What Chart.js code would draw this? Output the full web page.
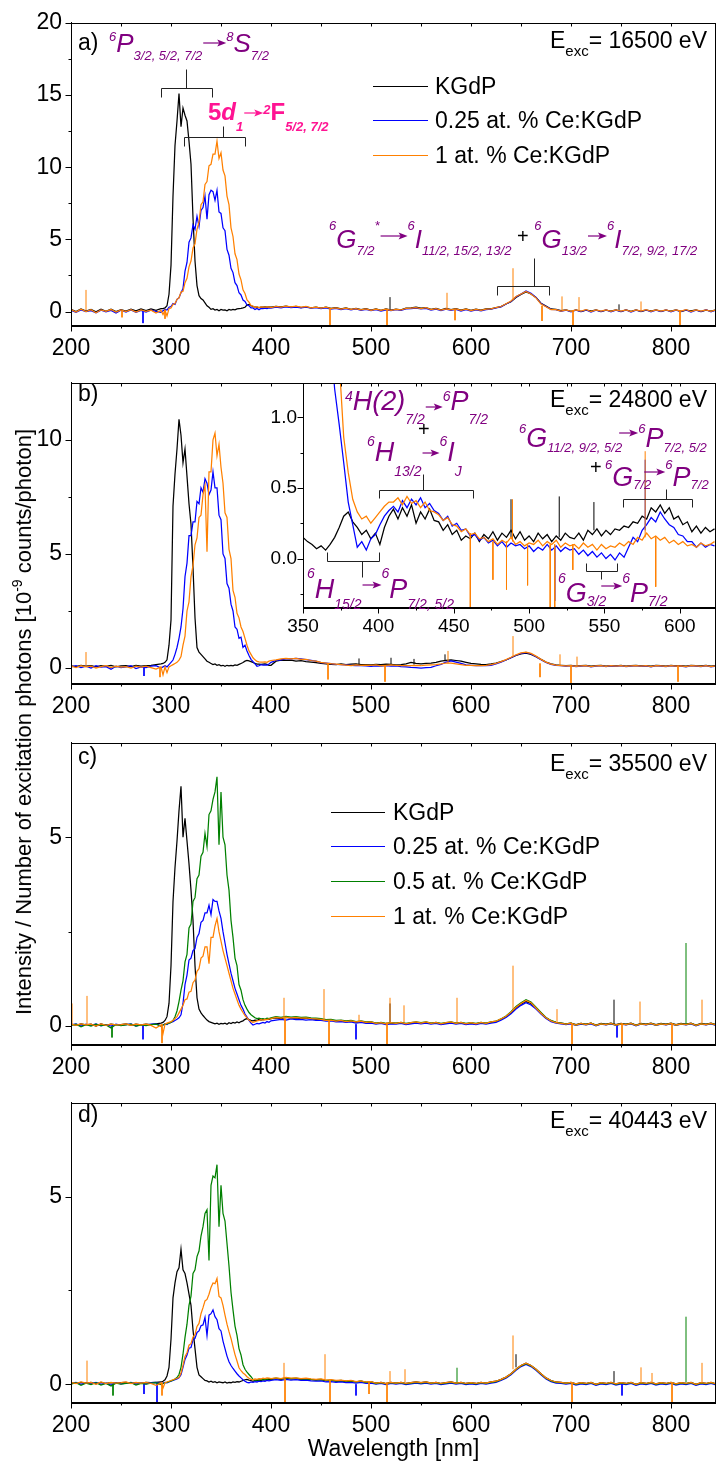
<!DOCTYPE html>
<html>
<head>
<meta charset="utf-8">
<script src="https://cdn.jsdelivr.net/npm/chart.js@4.4.0/dist/chart.umd.min.js"></script>
<style>
  body { margin: 0; background: #fff; }
  #page { position: relative; width: 716px; height: 1465px; overflow: hidden; background: #fff;
          font-family: "Liberation Sans", Arial, sans-serif; }
  canvas { position: absolute; }
  #ytitle { position: absolute; left: 24px; top: 722px; transform: translate(-50%, -50%) rotate(-90deg);
            white-space: nowrap; font-size: 22px; color: #000; }
  #ytitle sup { font-size: 14px; line-height: 0; vertical-align: 9px; }
</style>
</head>
<body>
<div id="page">
  <canvas id="pa" width="716" height="360" style="left:0;top:0"></canvas>
  <canvas id="pb" width="716" height="360" style="left:0;top:360px"></canvas>
  <canvas id="pc" width="716" height="360" style="left:0;top:720px"></canvas>
  <canvas id="pd" width="716" height="385" style="left:0;top:1080px"></canvas>
  <canvas id="pin" width="476" height="274" style="left:240px;top:366px"></canvas>
  <div id="ytitle">Intensity / Number of excitation photons [10<sup>-9</sup> counts/photon]</div>
</div>
<script>
const FONT = '"Liberation Sans", Arial, sans-serif';
const PURPLE = '#800080', PINK = '#ff1493';
const C_K = '#000000', C_B = '#0000ff', C_G = '#008000', C_O = '#ff8000';

const names = ['KGdP', '0.25 at. % Ce:KGdP', '0.5 at. % Ce:KGdP', '1 at. % Ce:KGdP'];
const excEnergies = [16500, 24800, 35500, 40443];

// tick positions
const xMajor = [200, 300, 400, 500, 600, 700, 800];
const xMinor = [250, 350, 450, 550, 650, 750, 850];
const inMajorX = [350, 400, 450, 500, 550, 600];
const inMinorX = [375, 425, 475, 525, 575, 625];

// wavelength grid (nm) for the four main panels
const wl = [
  200,205,210,215,220,225,230,235,240,245,
  250,255,260,265,270,275,280,285,290,
  292,294,296,298,300,302,304,306,308,310,
  312,314,316,318,320,322,324,326,328,330,
  332,334,336,338,340,342,344,346,348,350,
  352,354,356,358,360,362,364,366,368,370,
  372,374,376,378,380,382,384,386,388,390,
  392,394,396,398,
  400,405,410,415,420,425,430,435,440,445,
  450,455,460,465,470,475,480,485,490,495,
  500,505,510,515,520,525,530,535,540,545,
  550,555,560,565,570,575,580,585,590,595,
  600,605,610,615,620,625,630,635,640,645,
  650,655,660,665,670,675,680,685,690,695,
  700,705,710,715,720,725,730,735,740,745,
  750,755,760,765,770,775,780,785,790,795,
  800,805,810,815,820,825,830,835,840,845
];

// wavelength grid (nm) for the zoomed inset of panel b
const wlInset = [
  350,353,356,359,362,365,368,371,374,377,
  380,383,386,389,392,395,398,401,404,407,
  410,413,416,419,422,425,428,431,434,437,
  440,443,446,449,452,455,458,461,464,467,
  470,473,476,479,482,485,488,491,494,497,
  500,503,506,509,512,515,518,521,524,527,
  530,533,536,539,542,545,548,551,554,557,
  560,563,566,569,572,575,578,581,584,587,
  590,593,596,599,602,605,608,611,614,617,
  620,623
];

// ---- a) 16500 eV ----
const kgdpA = [
  0.15,0.00,0.18,0.03,0.14,-0.02,0.16,0.01,0.17,0.00,
  0.13,0.03,0.16,0.05,0.18,0.06,0.18,0.08,0.20,
  0.20,0.25,0.40,1.2,3.2,8.0,11.5,13.2,15.1,12.8,
  14.1,13.6,13.2,11.8,10.2,6.5,3.5,1.8,1.1,0.9,
  0.8,0.6,0.4,0.3,0.15,0.2,0.1,0.15,0.05,0.15,
  0.1,0.12,0.05,0.15,0.1,0.15,0.12,0.18,0.2,0.22,
  0.25,0.3,0.45,0.5,0.4,0.35,0.3,0.3,0.28,0.3,
  0.3,0.32,0.3,0.32,
  0.30,0.36,0.33,0.38,0.31,0.36,0.28,0.33,0.26,0.30,
  0.24,0.30,0.22,0.27,0.18,0.25,0.16,0.22,0.14,0.20,
  0.10,0.18,0.08,0.19,0.10,0.16,0.12,0.24,0.26,0.30,
  0.24,0.28,0.16,0.22,0.12,0.22,0.14,0.20,0.10,0.18,
  0.08,0.17,0.10,0.18,0.18,0.27,0.34,0.52,0.68,0.97,
  1.18,1.36,1.22,0.98,0.58,0.38,0.18,0.15,0.06,0.12,
  0.02,0.12,0.00,0.10,0.04,0.12,0.00,0.10,0.03,0.12,
  0.00,0.11,0.02,0.12,0.00,0.10,0.04,0.12,0.01,0.10,
  0.03,0.12,0.00,0.10,0.04,0.11,0.00,0.10,0.03,0.12
];
const ce025A = [
  0.08,-0.05,0.12,0.00,0.06,-0.08,0.10,-0.02,0.08,-0.10,
  0.10,-0.03,0.12,-0.05,0.08,-0.04,0.10,0.02,-0.05,
  0.05,0.15,0.10,0.30,0.35,0.55,0.50,0.85,0.95,1.30,
  1.60,2.80,3.40,4.80,5.10,6.00,5.70,6.60,5.90,7.00,
  7.20,8.00,6.40,8.10,8.40,8.30,7.70,8.40,6.90,6.80,
  5.80,5.60,4.30,3.90,3.00,2.70,2.00,1.80,1.30,1.15,
  0.80,0.70,0.45,0.40,0.25,0.25,0.15,0.22,0.12,0.22,
  0.20,0.24,0.20,0.25,
  0.24,0.30,0.26,0.32,0.27,0.31,0.25,0.30,0.23,0.27,
  0.20,0.26,0.17,0.22,0.14,0.20,0.12,0.18,0.08,0.15,
  0.06,0.14,0.04,0.12,0.06,0.13,0.08,0.18,0.20,0.24,
  0.18,0.22,0.10,0.17,0.06,0.16,0.08,0.15,0.04,0.14,
  0.03,0.12,0.05,0.14,0.16,0.26,0.33,0.52,0.70,1.02,
  1.22,1.42,1.26,0.98,0.55,0.35,0.15,0.13,0.02,0.10,
  -0.02,0.10,0.00,0.12,-0.03,0.10,0.00,0.12,-0.02,0.10,
  0.00,0.12,-0.03,0.10,0.01,0.12,-0.02,0.10,0.00,0.12,
  -0.02,0.10,0.01,0.12,-0.03,0.10,0.00,0.13,-0.02,0.10
];
const ce1A = [
  0.14,-0.04,0.16,0.00,0.13,-0.08,0.12,0.02,0.14,-0.04,
  0.12,0.00,0.13,-0.03,0.12,0.02,0.10,-0.10,0.08,
  -0.20,0.10,-0.30,0.20,0.25,0.50,0.55,0.85,0.95,1.35,
  1.40,2.00,2.30,3.10,3.50,4.40,4.70,5.70,6.20,7.40,
  7.60,8.80,9.00,10.1,10.2,10.9,10.9,11.8,10.6,11.0,
  9.80,9.40,8.00,7.40,5.80,5.20,4.00,3.60,2.60,2.20,
  1.50,1.25,0.80,0.65,0.42,0.38,0.28,0.34,0.26,0.32,
  0.30,0.30,0.31,0.32,
  0.28,0.36,0.31,0.38,0.32,0.37,0.30,0.35,0.26,0.31,
  0.24,0.30,0.21,0.26,0.17,0.24,0.15,0.21,0.12,0.19,
  0.09,0.17,0.08,0.16,0.09,0.15,0.11,0.22,0.24,0.27,
  0.21,0.27,0.14,0.20,0.10,0.19,0.12,0.18,0.08,0.17,
  0.06,0.15,0.08,0.17,0.18,0.28,0.35,0.54,0.73,1.04,
  1.22,1.40,1.22,0.95,0.52,0.33,0.14,0.13,0.03,0.12,
  0.01,0.12,0.03,0.14,0.00,0.11,0.03,0.12,0.01,0.11,
  0.03,0.12,0.00,0.11,0.03,0.14,0.01,0.11,0.03,0.12,
  0.01,0.11,0.03,0.14,0.00,0.11,0.03,0.12,0.01,0.11
];
// sharp single-channel spikes: [nm, from, to]
const spikesA_k = [[519,0.1,1.0],[748,0.05,0.5]];
const spikesA_b = [[272,0.05,-0.8]];
const spikesA_o = [[215,0.1,1.5],[251,0.05,-0.4],[294,0.1,-0.5],[459,0.2,-1.0],[516,0.1,-0.95],[576,0.15,1.3],[584,0.15,-0.6],[642,0.8,3.0],[671,0.4,-0.65],[691,0.1,1.05],[702,0.1,-1.0],[708,0.1,1.0],[770,0.05,0.7],[809,0.1,-1.0]];

// ---- b) 24800 eV ----
const kgdpB = [
  0.10,0.06,0.12,0.08,0.10,0.05,0.11,0.07,0.12,0.05,
  0.09,0.10,0.06,0.12,0.08,0.10,0.12,0.15,0.18,
  0.20,0.25,0.36,1.00,2.10,7.10,8.50,9.60,10.9,10.2,
  9.00,9.60,8.40,7.20,6.30,4.40,2.20,0.90,0.70,0.60,
  0.50,0.40,0.30,0.25,0.20,0.15,0.18,0.12,0.15,0.10,
  0.12,0.08,0.12,0.10,0.12,0.10,0.14,0.12,0.16,0.20,
  0.24,0.30,0.33,0.31,0.28,0.24,0.20,0.17,0.17,0.16,
  0.17,0.18,0.16,0.12,
  0.12,0.30,0.35,0.33,0.35,0.30,0.32,0.28,0.26,0.24,
  0.20,0.18,0.16,0.15,0.18,0.15,0.17,0.18,0.15,0.15,
  0.14,0.16,0.15,0.17,0.16,0.14,0.15,0.18,0.25,0.20,
  0.18,0.20,0.22,0.25,0.30,0.34,0.36,0.33,0.30,0.25,
  0.20,0.18,0.16,0.15,0.18,0.22,0.28,0.35,0.45,0.55,
  0.62,0.65,0.60,0.50,0.38,0.26,0.18,0.14,0.12,0.10,
  0.12,0.08,0.10,0.12,0.08,0.10,0.12,0.08,0.11,0.09,
  0.12,0.08,0.10,0.12,0.09,0.11,0.08,0.12,0.10,0.08,
  0.12,0.09,0.10,0.08,0.12,0.10,0.09,0.12,0.08,0.10
];
const ce025B = [
  0.05,0.10,0.02,0.08,0.00,0.10,0.04,0.06,-0.05,0.08,
  0.02,0.05,0.10,-0.02,0.05,0.02,0.08,0.10,0.00,
  0.05,0.10,0.05,0.15,0.25,0.35,0.60,0.90,1.30,1.80,
  2.60,4.00,4.60,5.80,5.80,6.40,6.40,7.30,7.20,7.90,
  7.70,8.30,8.10,7.60,7.80,8.60,7.90,7.90,6.70,6.50,
  5.00,4.80,3.70,3.50,2.80,2.50,1.80,1.70,1.30,1.35,
  0.90,1.00,0.75,0.55,0.38,0.28,0.18,0.08,0.10,0.15,
  0.13,0.14,0.13,0.18,
  0.25,0.33,0.36,0.40,0.40,0.42,0.40,0.37,0.34,0.30,
  0.24,0.22,0.19,0.16,0.15,0.14,0.12,0.10,0.10,0.09,
  0.07,0.09,0.08,0.10,0.08,0.09,0.06,0.05,0.03,0.02,
  0.00,0.02,0.03,0.10,0.16,0.26,0.31,0.26,0.20,0.14,
  0.12,0.10,0.11,0.10,0.12,0.18,0.26,0.35,0.45,0.56,
  0.64,0.68,0.62,0.50,0.36,0.24,0.16,0.12,0.10,0.08,
  0.10,0.06,0.08,0.10,0.05,0.08,0.10,0.06,0.09,0.07,
  0.10,0.06,0.08,0.10,0.07,0.09,0.05,0.10,0.08,0.06,
  0.10,0.07,0.08,0.05,0.10,0.08,0.06,0.10,0.05,0.08
];
const ce1B = [
  0.08,0.02,0.10,0.05,0.08,0.00,0.06,0.10,0.02,0.08,
  0.04,0.06,0.00,0.08,0.04,0.08,0.02,-0.05,0.05,
  -0.30,0.05,-0.20,0.05,0.10,0.15,0.20,0.25,0.35,0.50,
  1.00,1.40,2.50,2.90,4.00,4.50,5.40,5.70,6.60,6.70,
  7.60,8.00,5.10,8.60,8.60,10.0,10.3,9.30,9.80,8.80,
  8.10,6.80,6.60,5.20,4.80,3.40,3.10,2.40,2.20,1.80,
  1.60,1.30,1.00,0.75,0.60,0.45,0.36,0.29,0.27,0.26,
  0.26,0.27,0.25,0.30,
  0.33,0.36,0.40,0.42,0.40,0.42,0.38,0.38,0.33,0.30,
  0.25,0.22,0.19,0.17,0.15,0.13,0.11,0.14,0.12,0.13,
  0.12,0.14,0.10,0.12,0.14,0.12,0.10,0.10,0.10,0.12,
  0.10,0.13,0.14,0.15,0.18,0.22,0.21,0.18,0.15,0.12,
  0.12,0.10,0.11,0.12,0.15,0.20,0.28,0.37,0.47,0.58,
  0.66,0.70,0.64,0.52,0.38,0.26,0.17,0.13,0.10,0.09,
  0.11,0.07,0.09,0.11,0.06,0.09,0.11,0.07,0.10,0.08,
  0.11,0.07,0.09,0.11,0.08,0.10,0.06,0.11,0.09,0.07,
  0.11,0.08,0.09,0.06,0.11,0.09,0.07,0.11,0.06,0.09
];
const spikesB_k = [[488,0.15,0.42],[520,0.15,0.45],[543,0.15,0.4],[574,0.3,0.6]];
const spikesB_b = [[273,0.05,-0.35]];
const spikesB_o = [[215,0.1,0.7],[289,0.05,-0.4],[457,0.2,-0.5],[514,0.1,-0.6],[577,0.2,0.75],[642,0.5,1.4],[669,0.2,-0.4],[689,0.1,0.6],[700,0.1,-0.7],[706,0.1,0.5],[807,0.1,-0.6]];

// inset of b), 350-623 nm
const kgdpI = [
  0.15,0.12,0.10,0.07,0.09,0.06,0.10,0.15,0.22,0.30,
  0.33,0.26,0.22,0.17,0.20,0.14,0.18,0.10,0.22,0.30,
  0.35,0.28,0.36,0.30,0.38,0.25,0.33,0.28,0.35,0.27,
  0.26,0.20,0.24,0.17,0.20,0.13,0.16,0.14,0.18,0.12,
  0.17,0.14,0.19,0.13,0.18,0.15,0.20,0.14,0.19,0.13,
  0.16,0.12,0.18,0.14,0.17,0.12,0.16,0.13,0.18,0.15,
  0.14,0.18,0.13,0.20,0.17,0.21,0.16,0.20,0.17,0.21,
  0.20,0.23,0.22,0.26,0.25,0.30,0.28,0.36,0.33,0.38,
  0.32,0.36,0.28,0.30,0.24,0.26,0.19,0.23,0.18,0.22,
  0.19,0.21
];
const ce025I = [
  6.80,5.80,4.60,3.60,2.80,2.10,1.60,1.20,0.95,0.68,
  0.40,0.24,0.08,0.12,0.06,0.14,0.17,0.24,0.30,0.34,
  0.37,0.33,0.41,0.36,0.42,0.38,0.43,0.36,0.39,0.34,
  0.32,0.27,0.30,0.23,0.25,0.20,0.21,0.16,0.17,0.13,
  0.15,0.11,0.13,0.09,0.12,0.08,0.11,0.09,0.10,0.07,
  0.09,0.05,0.08,0.06,0.10,0.06,0.09,0.05,0.08,0.06,
  0.07,0.03,0.06,0.02,0.05,0.01,0.04,0.00,0.03,-0.01,
  0.04,0.01,0.08,0.15,0.12,0.20,0.24,0.29,0.26,0.33,
  0.28,0.24,0.22,0.17,0.16,0.12,0.12,0.08,0.11,0.08,
  0.10,0.09
];
const ce1I = [
  9.70,8.60,7.20,5.80,4.60,3.40,2.50,1.90,1.40,0.86,
  0.61,0.42,0.33,0.28,0.30,0.25,0.29,0.33,0.37,0.40,
  0.40,0.43,0.38,0.44,0.39,0.41,0.36,0.40,0.34,0.33,
  0.31,0.27,0.29,0.24,0.23,0.19,0.21,0.17,0.18,0.14,
  0.15,0.12,0.14,0.10,0.13,0.11,0.15,0.10,0.12,0.09,
  0.11,0.10,0.13,0.09,0.12,0.10,0.13,0.08,0.11,0.09,
  0.10,0.07,0.11,0.08,0.10,0.06,0.10,0.07,0.09,0.08,
  0.11,0.09,0.12,0.10,0.15,0.13,0.18,0.14,0.16,0.13,
  0.15,0.11,0.13,0.10,0.12,0.09,0.10,0.08,0.11,0.09,
  0.10,0.12
];
const spikesI_k = [[488,0.15,0.42],[520,0.15,0.44],[543,0.2,0.4]];
const spikesI_b = [[517,0.08,-0.3],[577,0.2,0.7]];
const spikesI_o = [[461,0.18,-0.4],[476,0.12,-0.15],[485,0.12,-0.22],[489,0.12,0.42],[499,0.1,-0.19],[514,0.1,-0.4],[517,0.1,-0.4],[529,0.1,-0.08],[577,0.15,0.76],[584,0.15,-0.2]];

// ---- c) 35500 eV ----
const kgdpC = [
  0.05,0.02,0.06,0.03,0.05,0.00,0.06,0.02,0.05,0.03,
  0.04,0.06,0.02,0.05,0.03,0.05,0.04,0.06,0.08,
  0.10,0.15,0.25,0.60,1.60,3.30,4.20,4.90,5.70,6.35,
  5.00,5.50,4.90,4.30,3.60,2.80,1.60,0.75,0.45,0.35,
  0.28,0.22,0.16,0.12,0.10,0.08,0.06,0.08,0.05,0.07,
  0.06,0.08,0.05,0.09,0.07,0.10,0.08,0.11,0.09,0.12,
  0.14,0.18,0.20,0.17,0.15,0.14,0.16,0.15,0.18,0.16,
  0.18,0.17,0.19,0.18,
  0.20,0.22,0.20,0.23,0.21,0.22,0.20,0.21,0.19,0.18,
  0.17,0.15,0.16,0.13,0.14,0.12,0.13,0.10,0.12,0.09,
  0.10,0.07,0.09,0.06,0.08,0.07,0.09,0.06,0.08,0.10,
  0.08,0.10,0.07,0.09,0.06,0.08,0.10,0.07,0.09,0.06,
  0.08,0.06,0.09,0.07,0.10,0.12,0.18,0.25,0.35,0.48,
  0.58,0.65,0.60,0.48,0.35,0.22,0.14,0.10,0.08,0.06,
  0.08,0.04,0.07,0.05,0.08,0.03,0.07,0.05,0.08,0.04,
  0.07,0.05,0.08,0.03,0.07,0.05,0.08,0.04,0.07,0.05,
  0.08,0.04,0.07,0.05,0.08,0.03,0.07,0.05,0.08,0.04
];
const ce025C = [
  0.03,0.06,0.00,0.05,0.02,0.06,0.01,0.04,0.00,0.05,
  0.02,0.04,0.06,0.00,0.04,0.02,0.05,0.06,0.01,
  0.03,0.06,0.04,0.08,0.10,0.12,0.15,0.18,0.22,0.30,
  0.60,1.10,1.35,1.75,1.80,2.00,2.05,2.35,2.45,2.75,
  2.80,3.00,3.00,3.20,2.95,3.35,3.30,3.30,3.05,2.85,
  2.50,2.20,1.90,1.65,1.40,1.20,1.00,0.85,0.70,0.55,
  0.45,0.32,0.24,0.15,0.08,0.03,0.05,0.07,0.06,0.08,
  0.10,0.08,0.12,0.10,
  0.14,0.16,0.18,0.16,0.19,0.17,0.18,0.16,0.17,0.15,
  0.15,0.13,0.14,0.11,0.12,0.10,0.11,0.08,0.10,0.07,
  0.08,0.05,0.07,0.04,0.06,0.05,0.07,0.04,0.06,0.08,
  0.06,0.08,0.05,0.07,0.04,0.06,0.08,0.05,0.07,0.04,
  0.06,0.04,0.07,0.05,0.08,0.10,0.16,0.23,0.33,0.45,
  0.55,0.62,0.56,0.45,0.32,0.20,0.12,0.08,0.06,0.04,
  0.06,0.02,0.05,0.03,0.06,0.01,0.05,0.03,0.06,0.02,
  0.05,0.03,0.06,0.01,0.05,0.03,0.06,0.02,0.05,0.03,
  0.06,0.02,0.05,0.03,0.06,0.01,0.05,0.03,0.06,0.02
];
const ce05C = [
  0.02,0.05,-0.02,0.04,0.00,0.05,0.01,0.03,-0.05,0.04,
  0.01,0.03,0.05,0.00,0.03,0.01,0.04,0.05,0.00,
  0.03,0.05,0.06,0.08,0.10,0.15,0.25,0.40,0.65,0.95,
  1.20,1.70,1.90,2.60,2.70,3.30,3.40,3.90,4.00,4.50,
  4.60,5.10,4.75,5.60,5.70,6.00,6.20,6.60,4.80,6.20,
  5.00,4.80,4.00,3.60,2.80,2.35,1.80,1.60,1.10,0.95,
  0.70,0.55,0.45,0.36,0.30,0.26,0.22,0.20,0.21,0.19,
  0.20,0.18,0.21,0.20,
  0.22,0.25,0.23,0.26,0.24,0.25,0.23,0.24,0.22,0.21,
  0.20,0.17,0.18,0.15,0.16,0.14,0.15,0.12,0.14,0.11,
  0.12,0.08,0.10,0.07,0.09,0.08,0.10,0.07,0.09,0.11,
  0.09,0.11,0.08,0.10,0.07,0.09,0.11,0.08,0.10,0.07,
  0.09,0.07,0.10,0.08,0.11,0.13,0.19,0.27,0.38,0.52,
  0.62,0.70,0.64,0.50,0.36,0.23,0.15,0.10,0.08,0.06,
  0.08,0.03,0.07,0.04,0.08,0.02,0.06,0.04,0.07,0.03,
  0.06,0.04,0.07,0.02,0.06,0.04,0.07,0.03,0.06,0.04,
  0.07,0.03,0.06,0.04,0.07,0.02,0.06,0.04,0.07,0.03
];
const ce1C = [
  0.05,0.02,0.06,0.03,0.05,0.00,0.06,0.02,0.05,0.03,
  0.04,0.06,0.02,0.05,0.03,0.05,0.02,-0.05,0.03,
  -0.20,0.05,0.08,0.10,0.12,0.15,0.20,0.25,0.35,0.45,
  0.55,0.70,0.72,0.90,0.92,1.15,1.22,1.45,1.52,1.80,
  1.85,2.10,2.10,1.65,2.35,2.35,2.65,2.85,2.50,2.25,
  2.00,1.80,1.60,1.40,1.20,1.00,0.85,0.70,0.55,0.45,
  0.36,0.28,0.22,0.16,0.12,0.10,0.12,0.14,0.15,0.17,
  0.16,0.18,0.17,0.19,
  0.20,0.23,0.21,0.24,0.22,0.23,0.21,0.22,0.20,0.19,
  0.18,0.15,0.16,0.13,0.15,0.12,0.14,0.11,0.13,0.10,
  0.11,0.07,0.09,0.06,0.09,0.07,0.10,0.06,0.09,0.11,
  0.08,0.11,0.07,0.10,0.06,0.09,0.11,0.07,0.10,0.06,
  0.09,0.06,0.10,0.07,0.11,0.13,0.19,0.26,0.37,0.50,
  0.60,0.68,0.62,0.48,0.34,0.22,0.14,0.09,0.07,0.05,
  0.08,0.03,0.07,0.04,0.08,0.02,0.06,0.04,0.07,0.03,
  0.06,0.04,0.07,0.02,0.06,0.04,0.07,0.03,0.06,0.04,
  0.07,0.03,0.06,0.04,0.07,0.02,0.06,0.04,0.07,0.03
];
const spikesC_k = [[519,0.08,0.6],[743,0.05,0.7]];
const spikesC_b = [[272,0.03,-0.35],[485,0.05,-0.35],[746,0.05,-0.3]];
const spikesC_g = [[241,0.0,-0.3],[815,0.05,2.2]];
const spikesC_o = [[201,0.05,0.6],[216,0.05,0.8],[291,0.05,-0.45],[413,0.2,0.75],[414,0.2,-0.5],[453,0.15,0.98],[458,0.15,-0.5],[488,0.1,0.3],[516,0.1,-0.5],[519,0.1,0.75],[533,0.1,0.55],[586,0.1,0.75],[642,0.45,1.6],[686,0.1,0.45],[701,0.08,-0.5],[751,0.08,-0.5],[769,0.08,0.65],[801,0.08,-0.5],[831,0.08,0.7]];

// ---- d) 40443 eV ----
const kgdpD = [
  0.04,0.02,0.05,0.03,0.05,0.01,0.05,0.02,0.04,0.03,
  0.04,0.05,0.02,0.04,0.03,0.05,0.04,0.05,0.06,
  0.08,0.12,0.22,0.45,1.20,2.30,2.70,3.00,3.10,3.60,
  3.05,2.95,2.70,2.40,2.10,1.45,0.95,0.45,0.25,0.20,
  0.15,0.10,0.09,0.06,0.08,0.05,0.07,0.04,0.06,0.05,
  0.04,0.06,0.03,0.05,0.04,0.06,0.05,0.07,0.06,0.08,
  0.10,0.12,0.13,0.11,0.10,0.08,0.10,0.09,0.11,0.10,
  0.12,0.11,0.13,0.12,
  0.13,0.15,0.13,0.16,0.14,0.15,0.13,0.14,0.12,0.11,
  0.12,0.09,0.10,0.08,0.09,0.07,0.08,0.06,0.08,0.05,
  0.06,0.03,0.05,0.02,0.05,0.03,0.05,0.02,0.04,0.06,
  0.04,0.06,0.03,0.05,0.02,0.04,0.06,0.03,0.05,0.02,
  0.04,0.02,0.05,0.03,0.06,0.08,0.13,0.19,0.28,0.40,
  0.50,0.56,0.50,0.40,0.28,0.17,0.10,0.06,0.05,0.03,
  0.05,0.01,0.04,0.02,0.05,0.00,0.04,0.02,0.05,0.01,
  0.04,0.02,0.05,0.00,0.04,0.02,0.05,0.01,0.04,0.02,
  0.05,0.01,0.04,0.02,0.05,0.00,0.04,0.02,0.05,0.01
];
const ce025D = [
  0.02,0.05,0.00,0.04,0.01,0.05,0.00,0.03,-0.02,0.04,
  0.01,0.03,0.05,0.00,0.03,0.01,0.04,0.05,0.00,
  0.03,0.05,0.04,0.06,0.08,0.10,0.12,0.14,0.17,0.25,
  0.45,0.66,0.78,0.96,0.98,1.18,1.22,1.38,1.42,1.56,
  1.58,1.78,1.30,1.84,1.88,1.98,1.80,1.72,1.48,1.42,
  1.15,0.95,0.75,0.60,0.50,0.42,0.35,0.28,0.22,0.17,
  0.12,0.08,0.05,0.04,0.06,0.05,0.07,0.06,0.08,0.07,
  0.09,0.08,0.10,0.09,
  0.10,0.12,0.10,0.13,0.11,0.12,0.10,0.11,0.09,0.08,
  0.09,0.06,0.07,0.05,0.06,0.04,0.05,0.03,0.05,0.02,
  0.03,0.00,0.02,-0.01,0.02,0.00,0.02,-0.01,0.01,0.03,
  0.01,0.03,0.00,0.02,-0.01,0.01,0.03,0.00,0.02,-0.01,
  0.01,-0.01,0.02,0.00,0.03,0.05,0.10,0.16,0.25,0.37,
  0.47,0.53,0.47,0.37,0.25,0.14,0.07,0.03,0.02,0.00,
  0.02,-0.02,0.01,-0.01,0.02,-0.03,0.01,-0.01,0.02,-0.02,
  0.01,-0.01,0.02,-0.03,0.01,-0.01,0.02,-0.02,0.01,-0.01,
  0.02,-0.02,0.01,-0.01,0.02,-0.03,0.01,-0.01,0.02,-0.02
];
const ce05D = [
  0.00,0.04,-0.03,0.03,-0.01,0.04,-0.02,0.02,-0.05,0.03,
  0.00,0.02,0.04,-0.02,0.02,0.00,0.03,0.04,-0.01,
  0.02,0.04,0.05,0.07,0.09,0.11,0.14,0.18,0.26,0.45,
  0.80,1.25,1.60,2.10,2.35,2.95,3.05,3.40,3.55,3.95,
  4.20,4.55,4.65,3.30,5.30,5.55,5.50,5.85,4.20,5.30,
  4.55,4.35,3.75,3.15,2.45,1.98,1.55,1.30,0.95,0.78,
  0.52,0.40,0.32,0.26,0.20,0.13,0.10,0.12,0.11,0.13,
  0.12,0.14,0.13,0.15,
  0.14,0.16,0.14,0.17,0.15,0.16,0.14,0.15,0.13,0.12,
  0.13,0.10,0.11,0.09,0.10,0.08,0.09,0.06,0.08,0.05,
  0.06,0.02,0.04,0.01,0.04,0.02,0.04,0.01,0.03,0.05,
  0.03,0.05,0.02,0.04,0.01,0.03,0.05,0.02,0.04,0.01,
  0.03,0.01,0.04,0.02,0.05,0.07,0.12,0.18,0.27,0.39,
  0.49,0.55,0.49,0.39,0.27,0.16,0.09,0.05,0.04,0.02,
  0.04,0.00,0.03,0.01,0.04,-0.01,0.03,0.01,0.04,0.00,
  0.03,0.01,0.04,-0.01,0.03,0.01,0.04,0.00,0.03,0.01,
  0.04,0.00,0.03,0.01,0.04,-0.01,0.03,0.01,0.04,0.00
];
const ce1D = [
  0.05,0.02,0.06,0.03,0.05,0.00,0.06,0.02,0.05,0.03,
  0.04,0.06,0.02,0.05,0.03,0.05,0.02,-0.03,0.03,
  -0.10,0.04,0.06,0.08,0.10,0.12,0.14,0.16,0.18,0.30,
  0.50,0.74,0.84,1.04,1.08,1.26,1.32,1.54,1.62,1.88,
  2.04,2.22,2.26,2.40,2.58,2.70,2.68,2.82,2.34,2.30,
  2.10,1.84,1.60,1.40,1.22,1.00,0.79,0.62,0.44,0.36,
  0.30,0.26,0.20,0.16,0.13,0.12,0.14,0.13,0.15,0.14,
  0.16,0.15,0.17,0.16,
  0.15,0.17,0.15,0.18,0.16,0.17,0.15,0.16,0.14,0.13,
  0.14,0.11,0.12,0.10,0.11,0.09,0.10,0.07,0.09,0.06,
  0.07,0.03,0.05,0.02,0.05,0.03,0.05,0.02,0.04,0.06,
  0.04,0.06,0.03,0.05,0.02,0.04,0.06,0.03,0.05,0.02,
  0.04,0.02,0.05,0.03,0.06,0.08,0.13,0.19,0.28,0.40,
  0.50,0.56,0.50,0.40,0.28,0.17,0.10,0.06,0.05,0.03,
  0.05,0.01,0.04,0.02,0.05,0.00,0.04,0.02,0.05,0.01,
  0.04,0.02,0.05,0.00,0.04,0.02,0.05,0.01,0.04,0.02,
  0.05,0.01,0.04,0.02,0.05,0.00,0.04,0.02,0.05,0.01
];
const spikesD_k = [[645,0.45,0.8],[743,0.05,0.35]];
const spikesD_b = [[273,0.05,-0.26],[286,0.05,-0.5],[485,0.0,-0.3],[751,0.0,-0.3]];
const spikesD_g = [[242,0.0,-0.3],[586,0.05,0.44],[815,0.05,1.8]];
const spikesD_o = [[200,0.05,0.44],[216,0.05,0.63],[291,0.05,-0.3],[413,0.15,0.57],[414,0.15,-0.5],[454,0.12,0.8],[459,0.12,-0.5],[498,0.05,-0.26],[516,0.05,-0.5],[519,0.05,0.35],[534,0.05,0.4],[642,0.4,1.3],[701,0.05,-0.5],[770,0.05,0.45],[781,0.05,0.3],[801,0.05,-0.5],[831,0.05,0.57]];

// ---------- helpers ----------
const pts = (grid, vals) => grid.map((x, i) => ({ x, y: vals[i] }));
function spikePts(list) {
  const out = [];
  for (const [x, a, b] of list) out.push({ x, y: a }, { x, y: b }, { x, y: null });
  return out;
}
function series(label, color, data, order) {
  return { label, data, borderColor: color, backgroundColor: color, borderWidth: 1.25,
           pointRadius: 0, tension: 0, order, key: true };
}
function spikeSet(color, list, order) {
  return { label: '', data: spikePts(list), borderColor: color, borderWidth: 1,
           pointRadius: 0, tension: 0, order, spanGaps: false };
}

function arrow(c, x, y, w, col) {
  c.strokeStyle = col; c.fillStyle = col; c.lineWidth = 1.2;
  c.beginPath(); c.moveTo(x + 1, y); c.lineTo(x + w - 6, y); c.stroke();
  c.beginPath(); c.moveTo(x + w, y); c.lineTo(x + w - 9, y - 3.5); c.lineTo(x + w - 7, y);
  c.lineTo(x + w - 9, y + 3.5); c.closePath(); c.fill();
}
// term symbols with super/subscripts, drawn run by run
function rich(c, x, y, t) {
  const big = t.big || 26, sm = t.sm || 13, w = t.bold ? 'bold ' : '';
  let cx = x;
  for (const [s, k, aw, back] of t.p) {
    if (k === 'arr') { cx -= back || 0; arrow(c, cx, y + t.arr, aw, t.c); cx += aw; continue; }
    let size = big, dy = 0, it = 'italic ', col = t.c;
    if (k === 'sup') { size = sm; dy = t.sup; }
    else if (k === 'sub') { size = sm; dy = t.sub; }
    else if (k === 'up') { it = ''; }
    else if (k === 'plus') { size = 20; it = ''; dy = -5; col = '#000'; }
    c.font = it + w + size + 'px ' + FONT;
    c.fillStyle = col;
    c.fillText(s, cx, y + dy);
    cx += c.measureText(s).width;
  }
}
function eexc(c, right, y, val) {
  c.fillStyle = '#000';
  const rest = '= ' + val + ' eV';
  c.font = '23px ' + FONT;
  const wE = c.measureText('E').width, wR = c.measureText(rest).width;
  c.font = '15px ' + FONT;
  const wS = c.measureText('exc').width;
  let x = right - wE - wS - wR;
  c.font = '23px ' + FONT; c.fillText('E', x, y); x += wE;
  c.font = '15px ' + FONT; c.fillText('exc', x, y + 8); x += wS;
  c.font = '23px ' + FONT; c.fillText(rest, x, y);
}

function decorFor(o) {
  return {
    id: 'decor',
    afterDraw(chart) {
      const c = chart.ctx, a = chart.chartArea, sx = chart.scales.x, sy = chart.scales.y;
      const ox = o.ox || 0, oy = o.oy || 0;
      c.save();
      c.textBaseline = 'alphabetic'; c.textAlign = 'left';
      c.strokeStyle = '#000'; c.lineWidth = 1;
      const L = Math.round(a.left) + 0.5, T = Math.round(a.top) + 0.5;
      const R = Math.round(a.right) - 0.5, B = Math.round(a.bottom) - 0.5;
      c.strokeRect(L, T, R - L, B - T);
      c.beginPath();
      const xt = o.xMajor.map(v => [v, 6]).concat(o.xMinor.map(v => [v, 3]));
      for (const [v, len] of xt) {
        const p = Math.round(sx.getPixelForValue(v)) + 0.5;
        c.moveTo(p, B); c.lineTo(p, B + len);
        c.moveTo(p, T); c.lineTo(p, T + 3);
      }
      const yt = o.yMajor.map(v => [v, 6]).concat(o.yMinor.map(v => [v, 3]));
      for (const [v, len] of yt) {
        const p = Math.round(sy.getPixelForValue(v)) + 0.5;
        c.moveTo(L, p); c.lineTo(L - len, p);
      }
      c.stroke();

      // brackets marking the assigned transitions
      c.strokeStyle = '#222'; c.lineWidth = 1;
      for (const b of o.brackets || []) {
        const x1 = Math.round(sx.getPixelForValue(b.from)) + 0.5;
        const x2 = Math.round(sx.getPixelForValue(b.to)) + 0.5;
        const xm = Math.round(sx.getPixelForValue(b.mid)) + 0.5;
        const y = Math.round(sy.getPixelForValue(b.at)) + 0.5;
        c.beginPath();
        c.moveTo(x1, y + b.end); c.lineTo(x1, y); c.lineTo(x2, y); c.lineTo(x2, y + b.end);
        c.moveTo(xm, y); c.lineTo(xm, y + b.stem);
        c.stroke();
      }

      if (o.legend) {
        const lg = o.legend;
        chart.data.datasets.filter(d => d.key).forEach((d, i) => {
          const y = lg.ys[i] - oy + 0.5;
          c.strokeStyle = d.borderColor; c.lineWidth = 1;
          c.beginPath(); c.moveTo(lg.x1, y); c.lineTo(lg.x2, y); c.stroke();
          c.fillStyle = '#000'; c.font = '23px ' + FONT; c.textBaseline = 'middle';
          c.fillText(d.label, lg.tx, y + 1);
        });
        c.textBaseline = 'alphabetic';
      }
      if (o.tag) {
        c.fillStyle = '#000'; c.font = '23px ' + FONT;
        c.fillText(o.tag[0], o.tag[1] - ox, o.tag[2] - oy);
      }
      if (o.exc) eexc(c, o.exc[0] - ox, o.exc[1] - oy, o.exc[2]);
      for (const t of o.texts || []) rich(c, t.x - ox, t.y - oy, t);
      c.restore();
    }
  };
}

function makePanel(id, o) {
  const tickFont = { family: FONT, size: o.fs };
  return new Chart(document.getElementById(id), {
    type: 'line',
    data: { datasets: o.datasets },
    options: {
      responsive: false, animation: false, events: [],
      layout: { padding: { top: o.padTop, left: 0, right: 0, bottom: 0 } },
      scales: {
        x: {
          type: 'linear', min: o.x[0], max: o.x[1],
          afterBuildTicks: s => { s.ticks = o.xMajor.map(v => ({ value: v })); },
          afterFit: s => { s.height = o.xh; },
          ticks: { font: tickFont, color: '#000', padding: o.xpad, maxRotation: 0, autoSkip: false },
          grid: { display: false, drawTicks: false },
          border: { display: true, color: '#000' },
          title: o.xTitle
            ? { display: true, text: o.xTitle, color: '#000', font: { family: FONT, size: 23 }, padding: { top: 0, bottom: 2 } }
            : { display: false }
        },
        y: {
          type: 'linear', min: o.y[0], max: o.y[1],
          afterBuildTicks: s => { s.ticks = o.yMajor.map(v => ({ value: v })); },
          afterFit: s => { s.width = o.yw; },
          ticks: { font: tickFont, color: '#000', padding: o.ypad, callback: o.yFmt || (v => String(v)) },
          grid: { display: false, drawTicks: false },
          border: { display: true, color: '#000' }
        }
      },
      plugins: { legend: { display: false }, tooltip: { enabled: false } }
    },
    plugins: [decorFor(o)]
  });
}

// ---------- panel a ----------
makePanel('pa', {
  x: [200, 845], y: [-1, 20], padTop: 20, xh: 34, yw: 71, fs: 23, xpad: 9, ypad: 9,
  xMajor, xMinor, yMajor: [0, 5, 10, 15, 20], yMinor: [2.5, 7.5, 12.5, 17.5],
  datasets: [
    series(names[0], C_K, pts(wl, kgdpA), 4),
    series(names[1], C_B, pts(wl, ce025A), 3),
    series(names[3], C_O, pts(wl, ce1A), 1),
    spikeSet(C_K, spikesA_k, 4), spikeSet(C_B, spikesA_b, 3), spikeSet(C_O, spikesA_o, 1)
  ],
  legend: { x1: 373, x2: 428, tx: 435, ys: [86, 120, 155] },
  tag: ['a)', 78, 50], exc: [707, 48, excEnergies[0]],
  brackets: [
    { from: 290, to: 341, mid: 315, at: 15.45, end: 9, stem: -19 },
    { from: 313, to: 374, mid: 352, at: 12.1, end: 9, stem: -11 },
    { from: 626, to: 678, mid: 663, at: 1.76, end: 9, stem: -28 }
  ],
  texts: [
    { x: 109, y: 52, c: PURPLE, big: 26, sm: 13, sup: -11, sub: 8, arr: -9,
      p: [['6','sup'],['P','big'],['3/2, 5/2, 7/2','sub'],['','arr',24],['8','sup'],['S','big'],['7/2','sub']] },
    { x: 208, y: 120, c: PINK, bold: true, big: 24, sm: 13, sup: -6, sub: 11, arr: -7,
      p: [['5','up'],['d','big'],['1','sub'],['','arr',20],['2','sup'],['F','up'],['5/2, 7/2','sub']] },
    { x: 329, y: 248, c: PURPLE, big: 26, sm: 13, sup: -18, sub: 7, arr: -12,
      p: [['6','sup'],['G','big'],['7/2','sub'],['*','sup'],['','arr',28],['6','sup'],['I','big'],
          ['11/2, 15/2, 13/2','sub'],[' + ','plus'],['6','sup'],['G','big'],['13/2','sub'],['','arr',20],
          ['6','sup'],['I','big'],['7/2, 9/2, 17/2','sub']] }
  ]
});

// ---------- panel b ----------
makePanel('pb', {
  x: [200, 845], y: [-0.7, 12.5], padTop: 18, xh: 36, yw: 71, fs: 23, xpad: 9, ypad: 9, oy: 360,
  xMajor, xMinor, yMajor: [0, 5, 10], yMinor: [2.5, 7.5],
  datasets: [
    series(names[0], C_K, pts(wl, kgdpB), 4),
    series(names[1], C_B, pts(wl, ce025B), 3),
    series(names[3], C_O, pts(wl, ce1B), 1),
    spikeSet(C_K, spikesB_k, 4), spikeSet(C_B, spikesB_b, 3), spikeSet(C_O, spikesB_o, 1)
  ],
  tag: ['b)', 78, 401], exc: [707, 407, excEnergies[1]]
});

// ---------- inset of panel b ----------
makePanel('pin', {
  x: [350, 624], y: [-0.35, 1.24], padTop: 12, xh: 32, yw: 63, fs: 19, xpad: 7, ypad: 6, ox: 240, oy: 366,
  xMajor: inMajorX, xMinor: inMinorX, yMajor: [0, 0.5, 1.0], yMinor: [-0.25, 0.25, 0.75],
  yFmt: v => v.toFixed(1),
  datasets: [
    series(names[0], C_K, pts(wlInset, kgdpI), 4),
    series(names[1], C_B, pts(wlInset, ce025I), 3),
    series(names[3], C_O, pts(wlInset, ce1I), 1),
    spikeSet(C_K, spikesI_k, 4), spikeSet(C_B, spikesI_b, 3), spikeSet(C_O, spikesI_o, 1)
  ],
  brackets: [
    { from: 400.5, to: 462.5, mid: 429.5, at: 0.486, end: 8, stem: -16 },
    { from: 366, to: 400.5, mid: 389, at: -0.016, end: -9, stem: 16 },
    { from: 562.5, to: 608, mid: 591, at: 0.424, end: 8, stem: -10 },
    { from: 538, to: 558, mid: 548, at: -0.09, end: -8, stem: 8 }
  ],
  texts: [
    { x: 345, y: 410, c: PURPLE, big: 27, sm: 14, sup: -9, sub: 14, arr: -3,
      p: [['4','sup'],['H(2)','big'],['7/2','sub'],['','arr',18],['6','sup'],['P','big'],['7/2','sub']] },
    { x: 418, y: 441, c: PURPLE, p: [['+','plus']] },
    { x: 367, y: 461, c: PURPLE, big: 27, sm: 14, sup: -15, sub: 15, arr: -8,
      p: [['6','sup'],['H','big'],['13/2','sub'],['','arr',18],['6','sup'],['I','big'],['J','sub']] },
    { x: 307, y: 598, c: PURPLE, big: 27, sm: 14, sup: -20, sub: 11, arr: -13,
      p: [['6','sup'],['H','big'],['15/2','sub'],['','arr',20],['6','sup'],['P','big'],['7/2, 5/2','sub']] },
    { x: 519, y: 447, c: PURPLE, big: 27, sm: 13, sup: -14, sub: 5, arr: -14,
      p: [['6','sup'],['G','big'],['11/2, 9/2, 5/2','sub'],['','arr',20,4],['6','sup'],['P','big'],['7/2, 5/2','sub']] },
    { x: 590, y: 479, c: PURPLE, p: [['+','plus']] },
    { x: 605, y: 486, c: PURPLE, big: 27, sm: 13, sup: -17, sub: 3, arr: -14,
      p: [['6','sup'],['G','big'],['7/2','sub'],['','arr',22,8],['6','sup'],['P','big'],['7/2','sub']] },
    { x: 558, y: 602, c: PURPLE, big: 27, sm: 14, sup: -19, sub: 4, arr: -16,
      p: [['6','sup'],['G','big'],['3/2','sub'],['','arr',22,6],['6','sup'],['P','big'],['7/2','sub']] }
  ]
});

// ---------- panel c ----------
makePanel('pc', {
  x: [200, 845], y: [-0.5, 7.5], padTop: 19, xh: 35, yw: 71, fs: 23, xpad: 9, ypad: 9, oy: 720,
  xMajor, xMinor, yMajor: [0, 5], yMinor: [2.5],
  datasets: [
    series(names[0], C_K, pts(wl, kgdpC), 4),
    series(names[1], C_B, pts(wl, ce025C), 3),
    series(names[2], C_G, pts(wl, ce05C), 2),
    series(names[3], C_O, pts(wl, ce1C), 1),
    spikeSet(C_K, spikesC_k, 4), spikeSet(C_B, spikesC_b, 3), spikeSet(C_G, spikesC_g, 2), spikeSet(C_O, spikesC_o, 1)
  ],
  legend: { x1: 331, x2: 385, tx: 393, ys: [812, 846, 881, 916] },
  tag: ['c)', 78, 764], exc: [707, 771, excEnergies[2]]
});

// ---------- panel d ----------
makePanel('pd', {
  x: [200, 845], y: [-0.5, 7.5], padTop: 17, xh: 62, yw: 71, fs: 23, xpad: 9, ypad: 9, oy: 1080,
  xTitle: 'Wavelength [nm]',
  xMajor, xMinor, yMajor: [0, 5], yMinor: [2.5],
  datasets: [
    series(names[0], C_K, pts(wl, kgdpD), 4),
    series(names[1], C_B, pts(wl, ce025D), 3),
    series(names[2], C_G, pts(wl, ce05D), 2),
    series(names[3], C_O, pts(wl, ce1D), 1),
    spikeSet(C_K, spikesD_k, 4), spikeSet(C_B, spikesD_b, 3), spikeSet(C_G, spikesD_g, 2), spikeSet(C_O, spikesD_o, 1)
  ],
  tag: ['d)', 78, 1122], exc: [707, 1128, excEnergies[3]]
});
</script>
</body>
</html>
